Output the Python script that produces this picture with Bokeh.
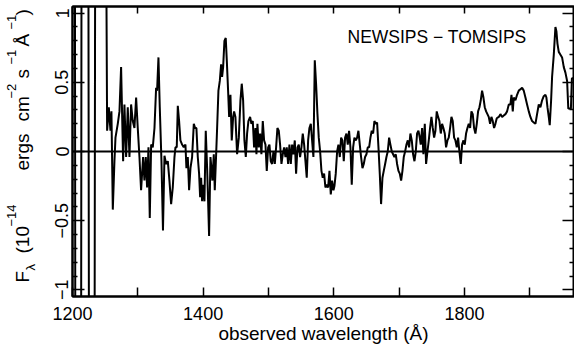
import math
from bokeh.plotting import figure
from bokeh.layouts import row
from bokeh.models import (LinearAxis, FixedTicker, Span, Label, Range1d,
                          CustomLabelingPolicy)
from bokeh.embed import file_html
from bokeh.resources import INLINE

# ---- data: observed wavelength (A) and flux difference ----
wavelength = [
    1195, 1203.5, 1204.5, 1213, 1214, 1224, 1225.5, 1233.5, 1235, 1250.5,
    1253.0, 1255.6, 1258.1, 1259.6, 1261.7, 1264.2, 1265.8, 1269.3, 1271.9, 1274.4,
    1277.5, 1279.5, 1282.1, 1284.6, 1287.2, 1289.7, 1292.3, 1294.8, 1297.4, 1299.9,
    1302.5, 1305.0, 1308.1, 1310.1, 1312.2, 1314.2, 1316.3, 1318.3, 1320.4, 1322.9,
    1325.5, 1328.0, 1329.5, 1331.6, 1333.6, 1336.2, 1338.5, 1340.8, 1343.3, 1345.9,
    1348.4, 1351.0, 1353.5, 1356.1, 1357.6, 1359.6, 1361.2, 1363.2, 1365.2, 1367.8,
    1370.3, 1372.9, 1374.4, 1376.5, 1378.5, 1380.6, 1383.1, 1385.7, 1387.7, 1389.7,
    1391.8, 1393.8, 1395.4, 1396.9, 1398.4, 1400.0, 1402.0, 1404.0, 1406.1, 1407.6,
    1409.1, 1411.2, 1412.7, 1414.2, 1416.3, 1417.8, 1419.9, 1421.4, 1423.4, 1425.5,
    1427.5, 1429.0, 1430.6, 1432.6, 1434.6, 1436.2, 1438.2, 1439.8, 1441.8, 1443.8,
    1445.9, 1447.4, 1449.4, 1452.0, 1454.6, 1457.1, 1459.1, 1461.2, 1463.2, 1465.3,
    1467.3, 1469.3, 1471.9, 1473.9, 1476.0, 1478.0, 1480.1, 1481.6, 1483.1, 1485.2,
    1487.2, 1489.2, 1491.3, 1493.3, 1495.4, 1497.4, 1499.5, 1501.5, 1503.5, 1505.6,
    1507.6, 1509.7, 1511.7, 1513.7, 1515.8, 1517.8, 1519.9, 1521.9, 1524.0, 1526.0,
    1528.0, 1530.1, 1532.1, 1534.2, 1536.2, 1538.2, 1540.3, 1542.3, 1544.4, 1546.4,
    1548.4, 1550.5, 1552.5, 1554.6, 1556.6, 1558.6, 1560.7, 1562.7, 1564.8, 1566.8,
    1568.8, 1570.9, 1572.9, 1575.0, 1577.0, 1579.1, 1581.1, 1583.1, 1585.2, 1587.2,
    1589.3, 1591.3, 1593.4, 1595.4, 1597.4, 1599.5, 1601.0, 1603.0, 1605.1, 1607.1,
    1609.2, 1611.2, 1613.2, 1615.3, 1617.3, 1619.4, 1621.4, 1623.4, 1625.5, 1627.5,
    1629.6, 1631.6, 1633.7, 1635.7, 1637.7, 1639.8, 1641.8, 1643.9, 1645.9, 1647.9,
    1650.0, 1652.0, 1654.1, 1656.1, 1658.1, 1660.2, 1662.2, 1664.3, 1666.3, 1668.4,
    1670.4, 1672.4, 1674.5, 1676.5, 1678.6, 1680.6, 1682.6, 1684.7, 1686.7, 1688.8,
    1690.8, 1692.8, 1694.9, 1696.9, 1699.0, 1701.0, 1703.1, 1705.1, 1707.1, 1709.2,
    1711.2, 1713.3, 1715.3, 1717.3, 1719.4, 1721.4, 1723.5, 1725.5, 1727.5, 1729.6,
    1731.6, 1733.1, 1735.2, 1737.2, 1739.3, 1741.3, 1743.4, 1745.4, 1747.4, 1749.5,
    1751.5, 1753.6, 1755.6, 1757.6, 1759.7, 1761.7, 1763.8, 1765.8, 1767.8, 1769.9,
    1771.9, 1774.0, 1776.0, 1778.1, 1780.1, 1782.1, 1784.2, 1786.2, 1788.3, 1790.3,
    1792.3, 1794.4, 1796.4, 1798.5, 1800.5, 1802.5, 1804.6, 1806.6, 1808.7, 1810.7,
    1812.7, 1814.8, 1816.8, 1818.9, 1820.9, 1823.0, 1825.0, 1827.0, 1829.1, 1831.1,
    1833.2, 1835.2, 1837.2, 1839.3, 1841.3, 1843.4, 1845.4, 1847.4, 1849.5, 1852.6,
    1855.1, 1857.7, 1860.2, 1862.8, 1865.3, 1867.9, 1870.4, 1872.0, 1874.0, 1875.5,
    1878.1, 1880.6, 1883.2, 1885.7, 1888.3, 1890.8, 1893.4, 1895.9, 1898.5, 1901.0,
    1903.6, 1906.1, 1908.7, 1911.2, 1913.8, 1916.3, 1918.9, 1921.4, 1924.0, 1925.5,
    1927.1, 1929.1, 1930.6, 1932.7, 1934.2, 1936.8, 1939.3, 1940.8, 1942.4, 1944.4,
    1947.0, 1949.5, 1952.1, 1954.6, 1957.2, 1959.0, 1963.0, 1964.5, 1970.0,
]
flux = [
    2.5, 2.5, -2.5, -2.5, 2.5, 2.5, -2.5, -2.5, 2.5, 2.5,
    0.15, 0.32, 0.15, 0.29, -0.42, -0.07, 0.10, 0.20, 0.29, 0.61,
    -0.07, 0.34, -0.04, 0.32, -0.04, 0.34, 0.22, 0.17, 0.39, 0.17,
    -0.04, -0.28, -0.04, -0.21, -0.04, -0.26, 0.03, -0.48, 0.05, 0.03,
    0.17, 0.46, 0.44, 0.68, 0.32, -0.07, -0.57, -0.03, -0.09, -0.07,
    -0.21, -0.38, -0.26, -0.04, 0.03, 0.03, 0.33, 0.22, 0.08, 0.05,
    0.03, 0.05, -0.12, -0.04, -0.28, -0.12, -0.04, 0.20, 0.17, 0.17,
    -0.04, -0.16, -0.33, -0.19, -0.36, -0.24, -0.36, 0.15, -0.12, -0.36,
    -0.61, -0.04, -0.12, -0.21, -0.02, -0.28, -0.02, 0.17, 0.44, 0.51,
    0.63, 0.54, 0.61, 0.80, 0.82, 0.66, 0.44, 0.25, 0.41, 0.08,
    0.25, 0.29, 0.25, -0.02, 0.10, 0.37, 0.49, 0.37, 0.08, -0.04,
    0.13, 0.22, 0.25, 0.20, 0.22, 0.03, 0.17, -0.02, 0.20, 0.03,
    0.13, -0.02, 0.22, 0.08, 0.05, -0.14, 0.03, 0.05, -0.07, -0.09,
    0.00, -0.09, 0.03, 0.17, 0.15, 0.05, -0.09, -0.02, 0.03, -0.04,
    0.03, -0.09, 0.05, -0.09, 0.05, -0.02, 0.08, -0.16, 0.03, 0.05,
    -0.04, 0.03, 0.13, 0.05, -0.07, -0.19, 0.08, 0.17, 0.20, 0.08,
    -0.04, 0.66, 0.49, 0.27, 0.10, 0.00, -0.14, -0.19, -0.16, -0.26,
    -0.24, -0.26, -0.14, -0.31, -0.21, -0.28, -0.25, -0.16, 0.00, 0.05,
    -0.04, 0.10, 0.08, -0.07, 0.10, 0.13, 0.05, 0.15, 0.03, -0.24,
    0.03, 0.10, 0.08, 0.10, 0.15, 0.05, -0.04, -0.12, -0.09, -0.04,
    -0.02, 0.03, 0.03, 0.10, 0.15, 0.13, 0.22, 0.20, 0.21, 0.03,
    -0.16, -0.38, -0.19, -0.14, -0.09, -0.04, 0.00, 0.10, 0.05, 0.00,
    -0.02, -0.04, -0.02, -0.09, -0.14, -0.16, -0.21, -0.14, -0.04, 0.00,
    0.05, 0.08, 0.03, 0.13, 0.08, -0.02, -0.07, 0.00, 0.13, 0.15,
    0.10, 0.05, 0.17, -0.02, 0.20, -0.09, 0.00, 0.08, 0.17, 0.25,
    0.17, 0.10, 0.15, 0.29, 0.25, 0.22, 0.13, 0.20, 0.17, 0.13,
    0.03, 0.08, 0.10, 0.17, 0.25, 0.22, 0.10, 0.08, 0.03, 0.10,
    0.00, -0.09, 0.05, 0.08, 0.05, 0.13, 0.17, 0.20, 0.17, 0.29,
    0.27, 0.17, 0.13, 0.20, 0.29, 0.32, 0.37, 0.44, 0.39, 0.32,
    0.29, 0.27, 0.25, 0.20, 0.25, 0.22, 0.17, 0.20, 0.24, 0.25,
    0.27, 0.25, 0.26, 0.27, 0.29, 0.34, 0.34, 0.41, 0.29, 0.39,
    0.37, 0.41, 0.44, 0.45, 0.46, 0.44, 0.39, 0.34, 0.29, 0.25,
    0.22, 0.21, 0.20, 0.27, 0.34, 0.32, 0.37, 0.40, 0.41, 0.39,
    0.32, 0.25, 0.19, 0.37, 0.54, 0.70, 0.90, 0.87, 0.78, 0.72,
    0.70, 0.68, 0.61, 0.57, 0.51, 0.31, 0.31, 0.53, 0.53,
]

x_major_ticks = [1200, 1400, 1600, 1800]
x_minor_ticks = [1300, 1500, 1700, 1900]
y_major_ticks = [-1, -0.5, 0, 0.5, 1]
y_major_labels = ["\u22121", "\u22120.5", "0", "0.5", "1"]
y_minor_ticks = [-0.9, -0.8, -0.7, -0.6, -0.4, -0.3, -0.2, -0.1,
                 0.1, 0.2, 0.3, 0.4, 0.6, 0.7, 0.8, 0.9]
title_text = "NEWSIPS \u2212 TOMSIPS"
x_label_text = "observed wavelength (\u00c5)"
# y-axis label, split into pieces with their role (main text, subscript, superscript)
y_label_pieces = [
    ("F", "main"), ("\u03bb", "sub"), ("(10", "main"), ("\u221214", "sup"),
    ("ergs", "main"), ("cm", "main"), ("\u22122", "sup"), ("s", "main"),
    ("\u22121", "sup"), ("\u00c5", "main"), ("\u22121", "sup"), (")", "main"),
]
# where each piece starts, in pixels from the top of the page
y_label_starts = [282, 270, 253, 226, 170, 121, 98, 78, 64, 46, 29, 15]

FONT = "Liberation Sans"
H = 349
LABEL_W = 40
FRAME_BOTTOM = 296

# ---------------- main plot ----------------
p = figure(width=574 - LABEL_W, height=H, output_backend="svg", toolbar_location=None,
           x_range=Range1d(1200, 1968.5), y_range=Range1d(-1.048, 1.048),
           min_border_left=72 - LABEL_W, min_border_right=0, min_border_top=6,
           min_border_bottom=H - FRAME_BOTTOM, background_fill_color="white",
           border_fill_color="white")
p.grid.visible = False
p.outline_line_color = "black"
p.outline_line_width = 2

xt = FixedTicker(ticks=x_major_ticks, minor_ticks=x_minor_ticks)
yt = FixedTicker(ticks=y_major_ticks, minor_ticks=y_minor_ticks)
no_labels = CustomLabelingPolicy(code="return")


def style_axis(ax, ticker, major_in, minor_in, labels=True):
    ax.ticker = ticker
    ax.axis_line_color = "black"
    ax.axis_line_width = 2
    ax.major_tick_line_width = 1.5
    ax.minor_tick_line_width = 1.5
    ax.major_tick_in = major_in
    ax.major_tick_out = 0
    ax.minor_tick_in = minor_in
    ax.minor_tick_out = 0
    ax.major_label_text_font = FONT
    ax.major_label_text_font_size = "18px" if labels else "0px"
    ax.major_label_text_color = "black"
    if not labels:
        ax.major_label_policy = no_labels
        ax.major_label_standoff = 0


bottom = p.xaxis[0]
style_axis(bottom, xt, 9, 9)
bottom.major_label_standoff = 10
bottom.axis_label = x_label_text
bottom.axis_label_text_font = FONT
bottom.axis_label_text_font_size = "19px"
bottom.axis_label_text_font_style = "normal"
bottom.axis_label_text_color = "black"
bottom.axis_label_standoff = 0

left = p.yaxis[0]
style_axis(left, yt, 12, 5)
left.major_label_orientation = "parallel"
left.major_label_standoff = 4
left.major_label_overrides = {t: s for t, s in zip(y_major_ticks, y_major_labels)}

top = LinearAxis()
style_axis(top, xt, 7, 7, labels=False)
p.add_layout(top, "above")
right = LinearAxis()
style_axis(right, yt, 12, 5, labels=False)
p.add_layout(right, "right")

p.add_layout(Span(location=0, dimension="width", line_color="black", line_width=2))

p.line(wavelength, flux, line_color="black", line_width=2)

# title inside the frame (screen units are measured from the frame's bottom-left)
p.add_layout(Label(x=275, y=250, x_units="screen", y_units="screen", text=title_text,
                   text_font=FONT, text_font_size="17.5px", text_color="black"))

# ---------------- y-axis label panel ----------------
lab = figure(width=LABEL_W, height=H, output_backend="svg", toolbar_location=None,
             x_range=Range1d(0, LABEL_W), y_range=Range1d(0, H),
             x_axis_location=None, y_axis_location=None,
             min_border=0, min_border_left=0, min_border_right=0,
             min_border_top=6, min_border_bottom=H - FRAME_BOTTOM,
             background_fill_color="white", border_fill_color="white")
lab.grid.visible = False
lab.outline_line_color = None

role_x = {"main": 32, "sub": 37, "sup": 15}
role_size = {"main": "19px", "sub": "13px", "sup": "13px"}
for (txt, role), start in zip(y_label_pieces, y_label_starts):
    lab.add_layout(Label(x=role_x[role], y=FRAME_BOTTOM - start,
                         x_units="screen", y_units="screen",
                         text=txt, angle=math.pi / 2, text_font=FONT,
                         text_font_size=role_size[role], text_color="black"))

layout = row(lab, p, spacing=0)
open("out.html", "w").write(file_html(layout, INLINE))
